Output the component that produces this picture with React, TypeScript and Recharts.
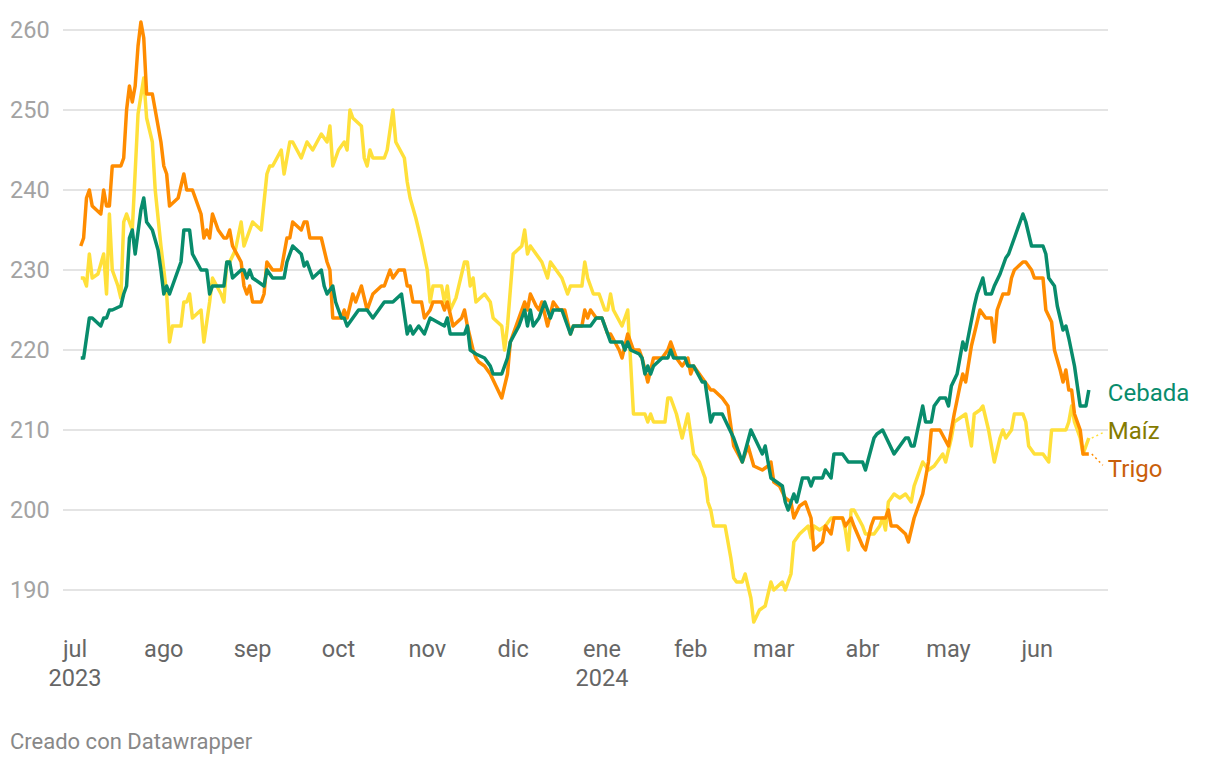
import { CartesianGrid, Line, LineChart, XAxis, YAxis } from "recharts";

// días contados desde el 1 de julio de 2023
const cebadaDays = [2, 3, 5, 6, 9, 10, 11, 12, 13, 16, 17, 18, 19, 20, 21, 23, 24, 25, 27, 29, 30, 31, 32, 33, 37, 38, 40, 41, 44, 46, 47, 48, 52, 53, 54, 55, 58, 59, 60, 61, 62, 66, 67, 69, 73, 74, 76, 79, 80, 81, 83, 86, 87, 88, 90, 91, 93, 94, 95, 97, 99, 102, 104, 106, 108, 111, 114, 116, 117, 118, 120, 122, 123, 124, 129, 130, 131, 136, 137, 138, 140, 143, 145, 146, 149, 151, 152, 155, 157, 158, 159, 160, 162, 164, 166, 167, 170, 172, 173, 174, 180, 182, 184, 186, 187, 191, 192, 193, 194, 197, 198, 199, 200, 201, 202, 205, 207, 208, 209, 213, 214, 216, 219, 220, 222, 223, 226, 230, 233, 236, 238, 240, 241, 243, 245, 247, 248, 249, 251, 252, 254, 256, 257, 258, 261, 262, 264, 265, 268, 270, 275, 276, 279, 280, 282, 286, 288, 290, 291, 292, 293, 296, 297, 299, 300, 302, 304, 305, 306, 308, 310, 311, 314, 315, 317, 318, 320, 321, 323, 325, 326, 328, 330, 331, 332, 334, 335, 338, 339, 340, 342, 343, 345, 346, 347, 349, 351, 353, 354];
const cebadaValues = [219, 219, 224, 224, 223, 224, 224, 225, 225, 225.5, 227, 228, 234, 235, 232, 237.5, 239, 236, 235, 232.5, 230, 227, 228, 227, 231, 235, 235, 232, 230, 230, 227, 228, 228, 231, 231, 229, 230, 230, 229, 230, 229, 228, 230, 229, 229, 231, 233, 232, 230.5, 231, 229, 230, 228, 227, 228, 226, 224, 224, 223, 224, 225, 225, 224, 225, 226, 226, 227, 222, 223, 222, 223, 222, 223, 224, 223, 224, 222, 222, 223, 220, 219.5, 219, 218, 217, 217, 219, 221, 223, 225, 223, 225, 223, 224, 226, 224, 225, 225, 223, 222, 223, 223, 224, 224, 222, 221, 221, 220, 221, 220, 219.5, 219, 217, 218, 217, 218, 219, 219, 220, 219, 219, 218, 218, 216, 216, 211, 212, 212, 209, 206, 210, 208.5, 207, 208, 204, 203.5, 203, 201, 200, 202, 201, 204, 204, 203, 204, 204, 205, 204, 207, 207, 206, 206, 205, 209, 209.5, 210, 207, 208, 209, 209, 208, 208, 213, 211, 211, 213, 214, 214, 213, 215.5, 217, 221, 220, 225.5, 227, 229, 227, 227, 228, 229.5, 231.5, 232, 234, 236, 237, 236, 233, 233, 233, 232, 229, 228, 225.5, 222.5, 223, 221.5, 218, 213, 213, 215];

const maizDays = [2, 3, 4, 5, 6, 8, 10, 11, 12, 13, 15, 16, 17, 18, 20, 22, 24, 25, 27, 28, 30, 32, 33, 34, 37, 38, 39, 40, 41, 44, 45, 47, 48, 51, 52, 53, 54, 56, 58, 59, 62, 65, 67, 68, 69, 72, 73, 75, 76, 79, 81, 83, 86, 88, 89, 90, 92, 94, 95, 96, 97, 100, 101, 102, 103, 104, 108, 109, 111, 112, 115, 116, 117, 119, 121, 123, 124, 125, 128, 129, 130, 131, 133, 136, 137, 138, 139, 140, 143, 145, 146, 149, 150, 151, 153, 156, 157, 158, 159, 161, 163, 165, 166, 168, 170, 172, 173, 177, 178, 179, 181, 183, 185, 186, 187, 188, 191, 193, 195, 199, 200, 201, 202, 206, 207, 208, 210, 212, 214, 216, 218, 220, 221, 222, 223, 227, 229, 230, 231, 233, 234, 236, 237, 239, 241, 243, 244, 247, 248, 250, 251, 253, 256, 257, 258, 260, 262, 264, 266, 268, 269, 270, 271, 272, 275, 276, 279, 281, 282, 283, 284, 286, 288, 290, 292, 293, 294, 296, 298, 300, 302, 303, 304, 306, 307, 309, 311, 312, 313, 314, 316, 317, 319, 320, 321, 323, 324, 325, 327, 328, 331, 332, 333, 335, 338, 340, 341, 344, 346, 347, 348, 349, 351, 352, 354];
const maizValues = [229, 229, 228, 232, 229, 229.5, 232, 227, 237, 230, 228, 226.5, 236, 237, 235, 249.5, 254, 249, 246, 240, 233, 227, 221, 223, 223, 226, 226, 227, 224, 225, 221, 226, 229, 227, 226, 231, 231, 232.5, 236, 233, 236, 235, 242, 243, 243, 245, 242, 246, 246, 244, 246, 245, 247, 246, 248, 243, 245, 246, 245, 250, 249, 248, 244, 243, 245, 244, 244, 245, 250, 246, 244, 241, 239, 236.5, 233.5, 230, 226, 228, 228, 226, 228, 225, 226.5, 231, 231, 228, 229, 226, 227, 226, 224, 223, 220, 223, 232, 233, 235, 232, 233, 232, 231, 229, 231, 230, 229, 227, 228, 228, 231, 229, 227, 227, 225, 225, 227, 225, 223, 225, 212, 212, 211, 212, 211, 211, 214, 214, 212, 209, 212, 207, 206, 204, 201, 200, 198, 198, 194, 191.5, 191, 191, 192, 189, 186, 187.5, 188, 191, 190, 191, 190, 192, 196, 197, 198, 196.5, 198, 197.5, 198, 199, 199, 199, 197.5, 195, 200, 200, 198, 197, 197, 198, 199, 197.5, 201, 202, 201.5, 202, 201, 203, 204, 206, 205, 205.5, 206.5, 207, 206, 209, 211, 211.5, 212, 210, 208, 212, 212.5, 213, 210, 208, 206, 209, 210, 209, 210, 212, 212, 211, 208, 207, 207, 206, 210, 210, 210, 211, 213, 211, 209, 207, 209];

const trigoDays = [2, 3, 4, 5, 6, 9, 10, 11, 12, 13, 16, 17, 18, 19, 20, 21, 22, 23, 24, 25, 27, 28, 30, 31, 32, 33, 36, 38, 39, 41, 44, 45, 46, 47, 48, 50, 52, 53, 54, 55, 58, 59, 60, 61, 62, 65, 66, 67, 69, 72, 74, 75, 76, 79, 80, 81, 82, 86, 88, 89, 90, 93, 94, 95, 97, 98, 100, 102, 104, 107, 108, 110, 111, 113, 115, 116, 117, 118, 121, 122, 124, 125, 128, 129, 130, 132, 135, 136, 137, 139, 140, 141, 143, 145, 147, 149, 151, 152, 155, 157, 158, 159, 161, 162, 163, 165, 167, 169, 171, 173, 174, 177, 178, 179, 180, 182, 184, 186, 187, 190, 191, 193, 195, 197, 198, 200, 202, 205, 207, 208, 210, 212, 214, 215, 216, 218, 220, 222, 223, 226, 228, 230, 233, 235, 237, 240, 242, 243, 244, 246, 248, 250, 251, 253, 255, 257, 258, 261, 262, 264, 265, 268, 269, 271, 272, 275, 276, 278, 279, 283, 284, 285, 287, 290, 291, 293, 295, 296, 298, 299, 302, 305, 307, 309, 310, 311, 313, 315, 316, 318, 320, 321, 322, 324, 326, 327, 328, 331, 332, 334, 335, 338, 339, 341, 342, 344, 345, 346, 347, 348, 349, 351, 352, 354];
const trigoValues = [233, 234, 239, 240, 238, 237, 240, 238, 238, 243, 243, 244, 250, 253, 251, 253, 258, 261, 259, 252, 252, 250, 246, 243, 242, 238, 239, 242, 240, 240, 237, 234, 235, 234, 237, 235, 234, 234, 235, 233, 231, 228, 227, 228, 226, 226, 227, 231, 230, 230, 234, 234, 236, 235, 236, 236, 234, 234, 231, 230, 224, 224, 225, 224, 227, 226, 228, 225, 227, 228, 228, 230, 229, 230, 230, 228, 228, 226, 226, 224, 225, 226, 226, 225, 226, 223, 224, 225, 223, 220, 219, 218.5, 218, 217, 215.5, 214, 217, 221, 224, 226, 225, 227, 225.5, 225, 226, 223, 226, 225, 225, 222, 223, 223, 225, 224, 225, 224, 224, 222, 222, 220, 219, 222, 220, 220, 219, 216, 219, 219, 220, 221, 219, 218, 219, 217, 218, 217, 216, 215, 215, 214, 213, 208, 206, 208, 205.5, 205, 205.5, 206, 203.5, 203, 201.5, 201, 199, 200.5, 201, 199, 195, 196, 198, 197, 199, 199, 198, 199, 198, 195.5, 195, 198, 199, 199, 200, 198, 198, 197, 196, 199, 201, 202, 206, 210, 210, 208, 212, 215.5, 217, 216, 220.5, 223.5, 225, 224, 224, 221, 225, 227, 227, 229, 230, 231, 231, 230, 229, 229, 225, 223.5, 220, 217.5, 216, 217.5, 215, 215, 212, 210, 207, 207];

const monthStarts = [0, 31, 62, 92, 123, 153, 184, 215, 244, 275, 305, 336];
const monthLabels = ["jul", "ago", "sep", "oct", "nov", "dic", "ene", "feb", "mar", "abr", "may", "jun"];
const yearLabels = ["2023", "", "", "", "", "", "2024", "", "", "", "", ""];
const yTicks = [190, 200, 210, 220, 230, 240, 250, 260];

const toPoints = (days: number[], values: number[]) =>
  days.map((day, i) => ({ day, value: values[i] }));

const series = [
  { name: "Maíz", data: toPoints(maizDays, maizValues), color: "#ffe03a", text: "#857b00", dy: -7 },
  { name: "Trigo", data: toPoints(trigoDays, trigoValues), color: "#ff8c00", text: "#c9600a", dy: 15 },
  { name: "Cebada", data: toPoints(cebadaDays, cebadaValues), color: "#088c6c", text: "#088c6c", dy: 3 },
];

const FONT = "Roboto, sans-serif";

function MonthTick(props: any) {
  const { x, payload } = props;
  const i = monthStarts.indexOf(payload.value);
  return (
    <g>
      <text x={x} y={657} textAnchor="middle" fill="#666" fontSize={23.5} fontFamily={FONT}>
        {monthLabels[i]}
      </text>
      {yearLabels[i] && (
        <text x={x} y={686} textAnchor="middle" fill="#666" fontSize={23.5} fontFamily={FONT}>
          {yearLabels[i]}
        </text>
      )}
    </g>
  );
}

function ValueTick(props: any) {
  const { y, payload } = props;
  return (
    <text x={10} y={y} dominantBaseline="central" fill="#a3a3a3" fontSize={23.5} fontFamily={FONT}>
      {payload.value}
    </text>
  );
}

function endDot(s: (typeof series)[number]) {
  const last = s.data.length - 1;
  return (p: any) => {
    if (p.index !== last) return <g key={p.index} />;
    const { cx, cy } = p;
    return (
      <g key={p.index}>
        {Math.abs(s.dy) > 4 && (
          <line
            x1={cx + 3}
            y1={cy}
            x2={cx + 14}
            y2={cy + s.dy * 0.75}
            stroke={s.color}
            strokeWidth={1.5}
            strokeDasharray="2 3"
          />
        )}
        <text x={cx + 19} y={cy + s.dy} dominantBaseline="central" fill={s.text} fontSize={24} fontFamily={FONT}>
          {s.name}
        </text>
      </g>
    );
  };
}

export default function App() {
  return (
    <div style={{ position: "fixed", left: 0, top: 0, width: 1220, height: 768, background: "#fff", fontFamily: FONT }}>
      <LineChart width={1220} height={768} margin={{ top: 14, right: 112, bottom: 70, left: 0 }}>
        <CartesianGrid vertical={false} horizontalValues={yTicks} stroke="#e4e4e4" strokeWidth={2} />
        <XAxis
          type="number"
          dataKey="day"
          domain={[-4.2, 360.7]}
          ticks={monthStarts}
          tick={<MonthTick />}
          axisLine={false}
          tickLine={false}
          height={60}
        />
        <YAxis
          domain={[184, 262]}
          ticks={yTicks}
          tick={<ValueTick />}
          axisLine={false}
          tickLine={false}
          width={63}
        />
        {series.map((s) => (
          <Line
            key={s.name}
            data={s.data}
            dataKey="value"
            type="linear"
            stroke={s.color}
            strokeWidth={3.5}
            strokeLinejoin="round"
            dot={endDot(s)}
            activeDot={false}
            isAnimationActive={false}
          />
        ))}
      </LineChart>
      <div style={{ position: "absolute", left: 10, top: 729, fontSize: 22, color: "#888" }}>
        Creado con Datawrapper
      </div>
    </div>
  );
}
